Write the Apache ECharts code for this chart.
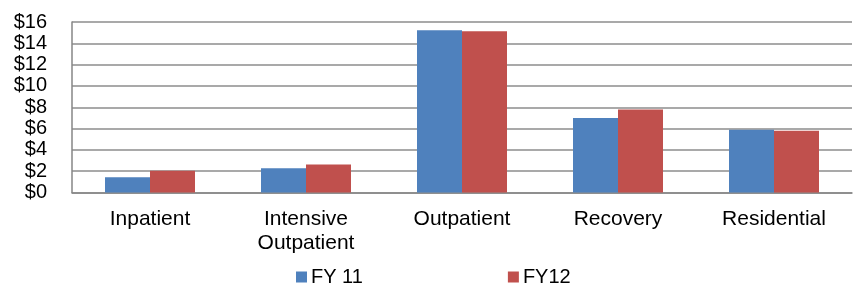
<!DOCTYPE html>
<html>
<head>
<meta charset="utf-8">
<script src="https://cdn.jsdelivr.net/npm/echarts@6/dist/echarts.min.js"></script>
<style>
  html, body { margin: 0; padding: 0; background: #fff; }
  #chart { width: 853px; height: 286px; }
</style>
</head>
<body>
<div id="chart"></div>
<script>
// data
const categories = ['Inpatient', 'Intensive\nOutpatient', 'Outpatient', 'Recovery', 'Residential'];
const fy11 = [1.44, 2.27, 15.23, 6.98, 5.88];
const fy12 = [2.03, 2.62, 15.14, 7.79, 5.79];
const yTicks = [0, 2, 4, 6, 8, 10, 12, 14, 16];

const font = 'Liberation Sans, Arial, sans-serif';

let myChart = echarts.init(document.getElementById('chart'));

const option = {
    animation: false,
    grid: { left: 72, right: 1, top: 22, bottom: 93.5 },
    legend: {
        top: 267,
        left: 296,
        padding: 0,
        itemWidth: 11,
        itemHeight: 11,
        itemGap: 145,
        icon: 'rect',
        textStyle: { fontFamily: font, fontSize: 20, color: '#000', padding: [0, 0, 0, -1] },
        data: ['FY 11', 'FY12']
    },
    xAxis: {
        type: 'category',
        data: categories,
        axisTick: { show: false },
        axisLine: { lineStyle: { color: '#868686', width: 1.5 } },
        axisLabel: {
            interval: 0,
            margin: 15,
            fontFamily: font,
            fontSize: 21,
            lineHeight: 24,
            color: '#000'
        }
    },
    yAxis: {
        type: 'value',
        min: yTicks[0],
        max: yTicks[yTicks.length - 1],
        interval: 2,
        axisLine: { show: true, lineStyle: { color: '#868686', width: 1.5 } },
        axisTick: { show: false },
        splitLine: { lineStyle: { color: '#8c8c8c', width: 1.5 } },
        axisLabel: {
            margin: 25,
            fontFamily: font,
            fontSize: 20,
            color: '#000',
            formatter: v => '$' + v
        }
    },
    series: [
        {
            name: 'FY 11',
            type: 'bar',
            data: fy11,
            barWidth: 45,
            barGap: '0%',
            itemStyle: { color: '#4F81BD' }
        },
        {
            name: 'FY12',
            type: 'bar',
            data: fy12,
            barWidth: 45,
            itemStyle: { color: '#C0504D' }
        }
    ]
};

myChart.setOption(option);
</script>
</body>
</html>
